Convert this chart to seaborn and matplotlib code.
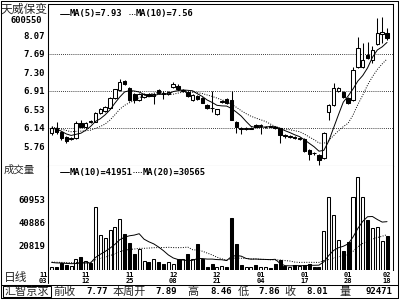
import numpy as np
import pandas as pd
import matplotlib
matplotlib.use("Agg")
import matplotlib.pyplot as plt
import seaborn as sns
from matplotlib.lines import Line2D
from matplotlib.patches import Rectangle
from matplotlib.transforms import ScaledTranslation

# ---------------- data ----------------
opens = [6.04, 6.14, 6.06, 5.96, 5.90, 5.93, 6.24, 6.17, 6.28, 6.27,
         6.45, 6.50, 6.55, 6.76, 6.93, 7.12, 6.97, 6.84, 6.72, 6.79,
         6.84, 6.81, 6.94, 6.86, 6.84, 6.99, 7.02, 6.90, 6.88, 6.72,
         6.80, 6.76, 6.62, 6.56, 6.43, 6.68, 6.74, 6.72, 6.27, 6.14,
         6.12, 6.12, 6.20, 6.18, 6.15, 6.18, 6.17, 6.13, 6.00, 5.95,
         5.96, 5.90, 5.92, 5.68, 5.62, 5.58, 5.51, 6.48, 6.62, 6.91,
         6.88, 6.76, 6.72, 7.42, 7.42, 7.67, 7.56, 7.89, 8.09, 8.12]
highs = [6.19, 6.26, 6.08, 5.97, 5.96, 6.29, 6.30, 6.26, 6.30, 6.48,
         6.55, 6.60, 6.78, 6.96, 7.15, 7.14, 6.99, 6.86, 6.87, 6.87,
         6.86, 6.87, 6.96, 6.90, 6.90, 7.09, 7.05, 6.95, 6.90, 6.84,
         6.82, 6.78, 6.64, 6.90, 6.54, 6.72, 6.76, 6.90, 6.28, 6.15,
         6.15, 6.15, 6.22, 6.22, 6.19, 6.20, 6.18, 6.14, 6.02, 5.99,
         5.98, 5.96, 5.93, 5.70, 5.64, 5.59, 6.05, 6.64, 7.07, 7.00,
         6.92, 6.79, 7.40, 8.04, 7.90, 7.94, 7.85, 8.43, 8.46, 8.23]
lows = [6.00, 6.02, 5.89, 5.82, 5.88, 5.91, 6.15, 6.14, 6.24, 6.26,
        6.43, 6.48, 6.54, 6.75, 6.92, 7.03, 6.70, 6.66, 6.70, 6.77,
        6.80, 6.64, 6.85, 6.74, 6.83, 6.97, 6.93, 6.88, 6.78, 6.70,
        6.72, 6.66, 6.54, 6.48, 6.42, 6.66, 6.64, 6.30, 6.03, 6.02,
        6.10, 6.11, 6.15, 6.02, 6.13, 6.15, 6.11, 5.82, 5.93, 5.93,
        5.91, 5.88, 5.64, 5.47, 5.58, 5.37, 5.49, 6.30, 6.60, 6.88,
        6.77, 6.64, 6.70, 7.38, 7.38, 7.57, 7.50, 7.86, 7.90, 7.98]
closes = [6.13, 6.06, 5.93, 5.86, 5.94, 6.25, 6.17, 6.24, 6.26, 6.46,
          6.53, 6.58, 6.76, 6.95, 7.10, 7.06, 6.72, 6.72, 6.85, 6.84,
          6.81, 6.85, 6.86, 6.84, 6.88, 7.06, 6.95, 6.93, 6.80, 6.83,
          6.75, 6.67, 6.56, 6.55, 6.53, 6.69, 6.65, 6.31, 6.17, 6.12,
          6.13, 6.14, 6.17, 6.20, 6.17, 6.16, 6.13, 5.99, 5.97, 5.97,
          5.93, 5.94, 5.66, 5.60, 5.61, 5.47, 6.03, 6.62, 6.97, 6.98,
          6.79, 6.67, 7.35, 7.80, 7.55, 7.59, 7.77, 8.11, 8.13, 8.01]
volumes = [2800, 2800, 5700, 4300, 3500, 9200, 10900, 7700, 6300, 54500,
           30100, 27300, 34400, 36700, 43600, 31000, 23000, 13800, 18100, 7700,
           7200, 9500, 7200, 5200, 7200, 4900, 9200, 9500, 13800, 9800,
           22400, 9200, 2800, 5200, 3000, 3400, 2300, 44500, 22100, 4300,
           2800, 2800, 4300, 2300, 2300, 1500, 5200, 8600, 3400, 2300,
           4300, 3400, 4300, 5200, 2300, 2800, 33900, 62600, 47400, 25800,
           16600, 24400, 62600, 79800, 62600, 43100, 35900, 36700, 25200, 29500]
# values before the first visible day, used only for the moving averages
prior_closes = [6.22, 6.18, 6.15, 6.20, 6.17, 6.12, 6.16, 6.14, 6.10]
prior_volumes = [6500, 8200, 5400, 7800, 6900, 9100, 6200, 7400, 5800, 8600,
                 7000, 6300, 7700, 5900, 8100, 6600, 7200, 6000, 7500]

date_idx = [0, 7, 16, 25, 34, 43, 52, 61, 69]
date_labels = ["11\n03", "11\n12", "11\n25", "12\n08", "12\n21",
               "01\n04", "01\n17", "01\n28", "02\n18"]
price_ticks = [8.07, 7.69, 7.30, 6.91, 6.53, 6.14, 5.76]
price_grid = [7.69, 6.91, 6.14]
vol_ticks = [60953, 40886, 20819]

stock_name = "天威保变"
stock_code = "600550"
price_legend = ["MA(5)=7.93", "MA(10)=7.56"]
vol_legend = ["MA(10)=41951", "MA(20)=30565"]
info_items = [("前收", "7.77"), ("本周开", "7.89"), ("高", "8.46"),
              ("低", "7.86"), ("收", "8.01"), ("量", "92471")]

# ---------------- derived ----------------
n = len(closes)
idx = np.arange(n)
c_all = pd.Series(prior_closes + closes)
v_all = pd.Series(prior_volumes + volumes)
ma5 = c_all.rolling(5).mean().iloc[len(prior_closes):].to_numpy()
ma10 = c_all.rolling(10).mean().iloc[len(prior_closes):].to_numpy()
vma10 = v_all.rolling(10).mean().iloc[len(prior_volumes):].to_numpy()
vma20 = v_all.rolling(20).mean().iloc[len(prior_volumes):].to_numpy()
o = np.array(opens); c = np.array(closes)
up = c >= o
face = ["white" if u else "black" for u in up]

# ---------------- figure ----------------
sns.set_theme(style="white")
plt.rcParams["font.family"] = ["DejaVu Sans Mono", "Noto Sans CJK SC"]
W, H = 400, 300
fig = plt.figure(figsize=(4, 3), dpi=100)
fig.patch.set_facecolor("white")

def fx(x):
    return x / W

def fy(y):
    return 1 - y / H

LW = 0.75
mono = dict(family="DejaVu Sans Mono", weight="bold", color="black")
cjk = ["Noto Sans CJK SC", "DejaVu Sans"]

ax_p = fig.add_axes([fx(48), fy(166), 345 / W, 162 / H])
ax_v = fig.add_axes([fx(48), fy(270), 345 / W, 104 / H])
xl = (-0.76, 70.23)

# price panel
for g in price_grid:
    ax_p.axhline(g, color="black", lw=0.6, ls=(0, (1, 1.5)), zorder=1)
ax_p.vlines(idx, lows, highs, color="black", lw=LW, zorder=2)
body_lo = np.minimum(o, c)
body_h = np.maximum(np.abs(c - o), 0.012)
ax_p.bar(idx, body_h, bottom=body_lo, width=0.72, color=face,
         edgecolor="black", linewidth=LW, zorder=3)
sns.lineplot(x=idx, y=ma5, ax=ax_p, color="black", lw=0.7, zorder=4)
sns.lineplot(x=idx, y=ma10, ax=ax_p, color="black", lw=0.7,
             linestyle=(0, (1, 1.5)), zorder=4)
ax_p.set_xlim(*xl)
ax_p.set_ylim(5.3475, 8.7225)
ax_p.set_xticks([])
ax_p.set_yticks(price_ticks)
ax_p.set_yticklabels([f"{t:.2f}" for t in price_ticks], **mono)
ax_p.tick_params(axis="y", length=0, pad=2, labelsize=6.5)

# volume panel
ax_v.bar(idx, volumes, width=0.62, color=face, edgecolor="black",
         linewidth=LW, zorder=3)
sns.lineplot(x=idx, y=vma10, ax=ax_v, color="black", lw=0.7, zorder=4)
sns.lineplot(x=idx, y=vma20, ax=ax_v, color="black", lw=0.7,
             linestyle=(0, (1, 1.5)), zorder=4)
ax_v.set_xlim(*xl)
ax_v.set_ylim(0, 89570)
ax_v.set_yticks(vol_ticks)
ax_v.set_yticklabels([str(t) for t in vol_ticks], **mono)
ax_v.tick_params(axis="y", length=0, pad=2, labelsize=6.5)
ax_v.set_xticks(date_idx)
ax_v.set_xticklabels(date_labels, **mono)
ax_v.tick_params(axis="x", length=0, pad=1.5, labelsize=5)
xlabs = ax_v.get_xticklabels()
for lab in xlabs:
    lab.set_linespacing(0.9)
# first date label sits shifted left like the reference
xlabs[0].set_transform(xlabs[0].get_transform() +
                       ScaledTranslation(-8.5 / 100, 0, fig.dpi_scale_trans))

for ax in (ax_p, ax_v):
    ax.set_xlabel(""); ax.set_ylabel("")
    ax.set_facecolor("white")
    for s in ax.spines.values():
        s.set_color("black"); s.set_linewidth(LW)
ax_v.spines["top"].set_visible(False)
ax_v.spines["bottom"].set_visible(False)

# frame lines (figure pixels)
def hline(y, x0, x1, lw=LW):
    fig.add_artist(Line2D([fx(x0), fx(x1)], [fy(y), fy(y)], color="black", lw=lw))

def vline(x, y0, y1, lw=LW):
    fig.add_artist(Line2D([fx(x), fx(x)], [fy(y0), fy(y1)], color="black", lw=lw))

hline(1, 1, 398); hline(298, 1, 398)
vline(1, 1, 298); vline(397.5, 1, 298)
hline(285, 1, 398)
vline(48, 4, 283)

# legends
fig.add_artist(Line2D([fx(60), fx(69)], [fy(13.5), fy(13.5)], color="black", lw=0.7))
fig.text(fx(70), fy(13.5), price_legend[0], fontsize=6.3, va="center", **mono)
fig.add_artist(Line2D([fx(129), fx(136)], [fy(13.5), fy(13.5)], color="black", lw=0.7, ls=(0, (1, 1.5))))
fig.text(fx(136), fy(13.5), price_legend[1], fontsize=6.3, va="center", **mono)
fig.add_artist(Line2D([fx(60), fx(69)], [fy(172), fy(172)], color="black", lw=0.7))
fig.text(fx(70), fy(172), vol_legend[0], fontsize=6.3, va="center", **mono)
fig.add_artist(Line2D([fx(133), fx(142)], [fy(172), fy(172)], color="black", lw=0.7, ls=(0, (1, 1.5))))
fig.text(fx(143), fy(172), vol_legend[1], fontsize=6.3, va="center", **mono)

# left side texts
fig.text(fx(24), fy(9), stock_name, fontsize=8.5, ha="center", va="center", family=cjk)
fig.text(fx(26), fy(20.5), stock_code, fontsize=6.3, ha="center", va="center", **mono)
fig.text(fx(4), fy(170), "成交量", fontsize=7.5, ha="left", va="center", family=cjk)
fig.text(fx(4), fy(277), "日线", fontsize=8.5, ha="left", va="center", family=cjk)

# bottom info bar
fig.add_artist(Rectangle((fx(2.5), fy(297)), 48.5 / W, 11 / H, transform=fig.transFigure,
                         fill=False, edgecolor="black", lw=LW))
fig.text(fx(26.5), fy(291.5), "汇智京求", fontsize=8, ha="center", va="center", family=cjk)
label_x = [53, 113, 187, 238, 284, 339]
value_x = [108, 177, 232, 280, 328, 392]
for (lab, val), lx, vx in zip(info_items, label_x, value_x):
    fig.text(fx(lx), fy(291.5), lab, fontsize=8, ha="left", va="center", family=cjk)
    fig.text(fx(vx), fy(291.5), val, fontsize=6.5, ha="right", va="center", **mono)

fig.savefig("out.png", dpi=100, facecolor="white")
